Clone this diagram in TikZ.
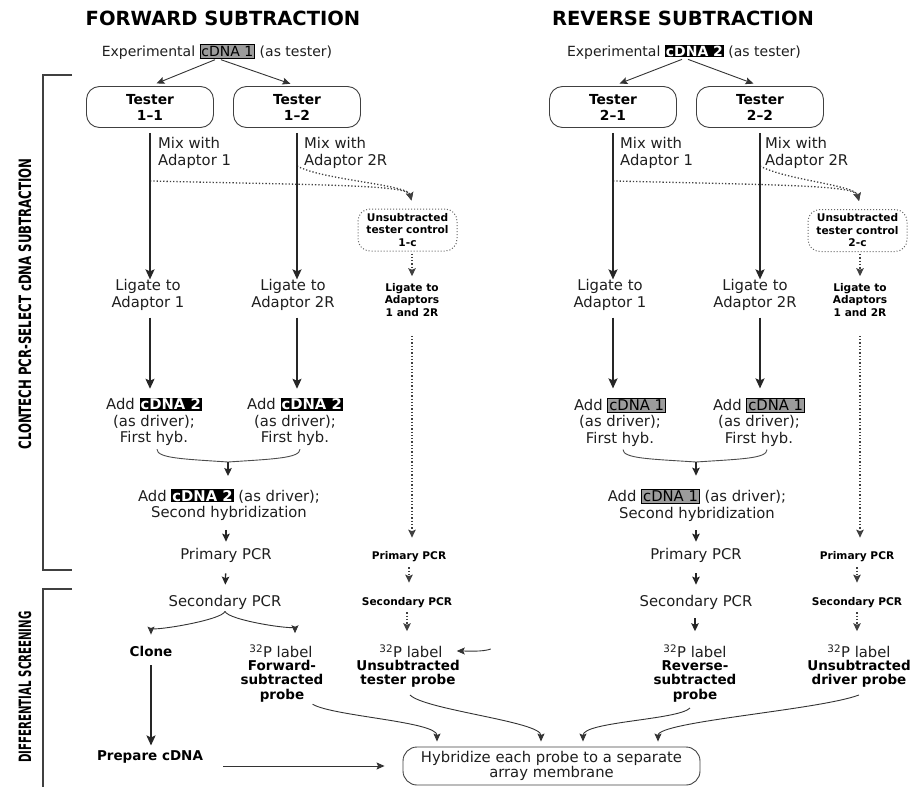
\documentclass[tikz,border=0pt]{standalone}
\usepackage{fontspec}
\setmainfont{DejaVu Sans}
\usepackage{tikz}
\usetikzlibrary{positioning,arrows.meta,calc}
\definecolor{ink}{HTML}{1E1E1E}
\definecolor{boxgray}{HTML}{9C9C9C}
\newcommand{\cdnagray}[1]{{\setlength{\fboxsep}{1pt}\setlength{\fboxrule}{0.9pt}\fcolorbox{black}{boxgray}{\color{black}#1}}}
\newcommand{\cdnablack}[1]{{\setlength{\fboxsep}{1pt}\colorbox{black}{\color{white}\bfseries #1}}}
\newcommand{\plabel}{\textsuperscript{32}P label}

\begin{document}
\begin{tikzpicture}[x=1pt, y=-1pt,
  title/.style={inner sep=0pt, font=\fontsize{19.5}{22}\selectfont\bfseries},
  txt/.style={inner sep=0pt, align=center, text=ink, font=\fontsize{14.8}{16.5}\selectfont},
  bld/.style={inner sep=0pt, align=center, font=\fontsize{13.5}{14.5}\selectfont\bfseries},
  sml/.style={inner sep=0pt, align=center, font=\fontsize{10.6}{12.5}\selectfont\bfseries},
  tester/.style={draw=black!75, line width=0.9pt, rounded corners=13pt, minimum width=127pt,
    minimum height=41pt, inner sep=0pt, align=center, font=\fontsize{13.8}{16}\selectfont\bfseries},
  ctrl/.style={draw=black!60, dotted, line width=1pt, rounded corners=12pt, minimum width=99pt,
    minimum height=42pt, inner sep=0pt, align=center, font=\fontsize{10.6}{12.5}\selectfont\bfseries},
  hybbox/.style={draw=black!75, line width=0.9pt, rounded corners=14pt, minimum width=297pt,
    minimum height=38pt, inner sep=0pt, align=center, text=ink, font=\fontsize{14.8}{15.5}\selectfont},
  arr/.style={-{Stealth[length=10pt, width=9pt, inset=2pt]}, line width=1.7pt, draw=black!85},
  sarr/.style={-{Stealth[length=8pt, width=7.5pt, inset=1.5pt]}, line width=1.3pt, draw=black!85},
  carr/.style={-{Stealth[length=8pt, width=7pt, inset=1.5pt]}, line width=0.9pt, draw=black!80},
  darr/.style={-{Stealth[length=8pt, width=7.5pt, inset=1.5pt]}, dotted, line width=1.3pt, draw=black!75},
  brc/.style={line width=0.9pt, draw=black!70},
  vlab/.style={rotate=90, inner sep=0pt, font=\fontsize{17}{17}\selectfont\bfseries}
]
\useasboundingbox (0,0) rectangle (913,787);

\node[title] (ftitle) at (223,18) {FORWARD SUBTRACTION};
\node[title] (rtitle) at (683,18) {REVERSE SUBTRACTION};
\node[txt, font=\fontsize{14}{16}\selectfont] (fexp) at (217,52) {Experimental \cdnagray{cDNA 1} (as tester)};
\node[txt, font=\fontsize{14}{16}\selectfont] (rexp) at (684,52) {Experimental \cdnablack{cDNA 2} (as tester)};

\node[tester] (t11) at (150,107) {Tester\\1--1};
\node[tester] (t12) at (297,107) {Tester\\1--2};
\node[tester] (t21) at (613,107) {Tester\\2--1};
\node[tester] (t22) at (760,107) {Tester\\2--2};

\node[txt, align=left, anchor=west] (mix11) at (158,153) {Mix with\\Adaptor 1};
\node[txt, align=left, anchor=west] (mix12) at (304,153) {Mix with\\Adaptor 2R};
\node[txt, align=left, anchor=west] (mix21) at (620,153) {Mix with\\Adaptor 1};
\node[txt, align=left, anchor=west] (mix22) at (765,153) {Mix with\\Adaptor 2R};

\node[ctrl] (unc1) at (407.5,230) {Unsubtracted\\tester control\\1-c};
\node[ctrl] (unc2) at (857.5,230.5) {Unsubtracted\\tester control\\2-c};

\node[txt] (lig11) at (148,295) {Ligate to\\Adaptor 1};
\node[txt] (lig12) at (293,295) {Ligate to\\Adaptor 2R};
\node[sml] (lig13) at (412,300) {Ligate to\\Adaptors\\1 and 2R};
\node[txt] (lig21) at (610,295) {Ligate to\\Adaptor 1};
\node[txt] (lig22) at (755,295) {Ligate to\\Adaptor 2R};
\node[sml] (lig23) at (860,300) {Ligate to\\Adaptors\\1 and 2R};

\node[txt] (add11) at (154,422) {Add \cdnablack{cDNA 2}\\(as driver);\\First hyb.};
\node[txt] (add12) at (295,422) {Add \cdnablack{cDNA 2}\\(as driver);\\First hyb.};
\node[txt] (add21) at (620,422) {Add \cdnagray{cDNA 1}\\(as driver);\\First hyb.};
\node[txt] (add22) at (759,422) {Add \cdnagray{cDNA 1}\\(as driver);\\First hyb.};

\node[txt] (hyb1) at (229,505) {Add \cdnablack{cDNA 2} (as driver);\\Second hybridization};
\node[txt] (hyb2) at (697,505) {Add \cdnagray{cDNA 1} (as driver);\\Second hybridization};

\node[txt] (pcr1) at (226,555) {Primary PCR};
\node[sml] (pcr13) at (409,557) {Primary PCR};
\node[txt] (pcr2) at (696,555) {Primary PCR};
\node[sml] (pcr23) at (857,557) {Primary PCR};

\node[txt] (sec1) at (225,602) {Secondary PCR};
\node[sml] (sec13) at (407,603) {Secondary PCR};
\node[txt] (sec2) at (696,602) {Secondary PCR};
\node[sml] (sec23) at (857,603) {Secondary PCR};

\node[bld] (clone) at (151,651) {Clone};
\node[txt] (lab1) at (281,651) {\plabel};
\node[txt] (lab13) at (411,651) {\plabel};
\node[txt] (lab2) at (695,651) {\plabel};
\node[txt] (lab23) at (859,651) {\plabel};
\node[bld] (fprobe) at (282,681) {Forward-\\subtracted\\probe};
\node[bld] (utprobe) at (408,674) {Unsubtracted\\tester probe};
\node[bld] (rprobe) at (695,681) {Reverse-\\subtracted\\probe};
\node[bld] (udprobe) at (859,674) {Unsubtracted\\driver probe};

\node[bld] (prep) at (150,757) {Prepare cDNA};
\node[hybbox] (hyb) at (551.5,766) {Hybridize each probe to a separate\\array membrane};

\node[vlab] (vsub) at (25,304) {\scalebox{0.69}[1]{CLONTECH PCR-SELECT cDNA SUBTRACTION}};
\node[vlab] (vscr) at (25,687) {\scalebox{0.6}[1]{DIFFERENTIAL SCREENING}};
\draw[line width=1.3pt, draw=black!75] (72,75) -- (43,75) -- (43,570) -- (72,570);
\draw[line width=1.3pt, draw=black!75] (72,589) -- (43,589) -- (43,790);

\draw[carr, shorten >=7pt] ([xshift=-2pt]fexp.south) -- (t11.north);
\draw[carr, shorten >=7pt] ([xshift=4pt]fexp.south) -- (t12.north);
\draw[carr, shorten >=7pt] ([xshift=-2pt]rexp.south) -- (t21.north);
\draw[carr, shorten >=7pt] ([xshift=4pt]rexp.south) -- (t22.north);

\draw[darr] ([yshift=-53pt]t11.south) .. controls +(160,4) and +(-4,-16) .. ([xshift=4pt, yshift=8pt]unc1.north);
\draw[darr] ([yshift=-38pt]t12.south) .. controls +(25,14) and +(-4,-16) .. ([xshift=4pt, yshift=8pt]unc1.north);
\draw[darr] ([yshift=-53pt]t21.south) .. controls +(160,4) and +(-4,-16) .. ([xshift=1.5pt, yshift=8pt]unc2.north);
\draw[darr] ([yshift=-38pt]t22.south) .. controls +(25,14) and +(-4,-16) .. ([xshift=1.5pt, yshift=8pt]unc2.north);

\foreach \t/\l/\a in {t11/lig11/add11, t12/lig12/add12, t21/lig21/add21, t22/lig22/add22} {
  \draw[arr, shorten <=5pt] (\t.south) -- (\t.south |- \l.north);
  \draw[arr, shorten <=7pt, shorten >=9pt] (\t.south |- \l.south) -- (\t.south |- \a.north);
}

\coordinate (fjoin) at (228,462);
\coordinate (rjoin) at (696,462);
\draw[brc] ([xshift=3pt, yshift=-3pt]add11.south) .. controls +(0,9) and +(-45,-3) .. (fjoin)
  .. controls +(45,-3) and +(0,9) .. ([xshift=5pt, yshift=-3pt]add12.south);
\draw[brc] ([xshift=3pt, yshift=-3pt]add21.south) .. controls +(0,9) and +(-45,-3) .. (rjoin)
  .. controls +(45,-3) and +(0,9) .. ([xshift=8pt, yshift=-3pt]add22.south);
\draw[sarr, shorten >=13pt] (fjoin) -- (fjoin |- hyb1.north);
\draw[sarr, shorten >=13pt] (rjoin) -- (rjoin |- hyb2.north);

\draw[sarr, shorten <=9pt, shorten >=6pt] (pcr1.north |- hyb1.south) -- (pcr1.north);
\draw[sarr, shorten <=9pt, shorten >=6pt] (pcr2.north |- hyb2.south) -- (pcr2.north);
\draw[sarr, shorten <=11pt, shorten >=10pt] (pcr1.south) -- (sec1.north);
\draw[sarr, shorten <=11pt, shorten >=10pt] (pcr2.south) -- (sec2.north);
\draw[sarr, shorten <=9pt, shorten >=13pt] (lab2.north |- sec2.south) -- (lab2.north);

\draw[carr, shorten >=11pt] ([yshift=-2pt]sec1.south) .. controls +(-3,9) and +(0,-14) .. (clone.north);
\draw[carr, shorten >=11pt] ([yshift=-2pt]sec1.south) .. controls +(3,9) and +(0,-14) .. ([xshift=14pt]lab1.north);
\draw[arr, shorten <=9pt, shorten >=5pt] (clone.south) -- (clone.south |- prep.north);
\draw[carr, shorten >=18pt] ([xshift=20pt]prep.east |- hyb.west) -- (hyb.west);

\draw[darr, shorten <=2pt, shorten >=7pt] (lig13.north |- unc1.south) -- (lig13.north);
\draw[darr, shorten <=19pt, shorten >=14pt] (lig13.south) -- (lig13.south |- pcr13.north);
\draw[darr, shorten <=5pt, shorten >=15pt] (pcr13.south) -- (pcr13.south |- sec13.north);
\draw[darr, shorten <=4pt, shorten >=13pt] (sec13.south) -- (sec13.south |- lab13.north);
\draw[darr, shorten <=2pt, shorten >=7pt] (lig23.north |- unc2.south) -- (lig23.north);
\draw[darr, shorten <=19pt, shorten >=14pt] (lig23.south) -- (lig23.south |- pcr23.north);
\draw[darr, shorten <=5pt, shorten >=15pt] (pcr23.south) -- (pcr23.south |- sec23.north);
\draw[darr, shorten <=4pt, shorten >=13pt] (sec23.south) -- (sec23.south |- lab23.north);

\draw[carr] ([shift={(48pt,2pt)}]lab13.east) .. controls +(-8,3) and +(10,0) .. ([xshift=14pt]lab13.east);

\draw[carr] ([xshift=-11pt, yshift=-2pt]fprobe.south east) .. controls +(20,12) and +(0,-20) .. ([xshift=-114.5pt, yshift=5pt]hyb.north);
\draw[carr] ([xshift=2pt, yshift=-7pt]utprobe.south) .. controls +(15,15) and +(0,-20) .. ([xshift=-10.5pt, yshift=5pt]hyb.north);
\draw[carr] ([xshift=-5pt, yshift=-6pt]rprobe.south) .. controls +(-12,12) and +(0,-20) .. ([xshift=31.5pt, yshift=5pt]hyb.north);
\draw[carr] ([yshift=-7pt]udprobe.south) .. controls +(-40,15) and +(0,-20) .. ([xshift=106.5pt, yshift=5pt]hyb.north);
\end{tikzpicture}
\end{document}
